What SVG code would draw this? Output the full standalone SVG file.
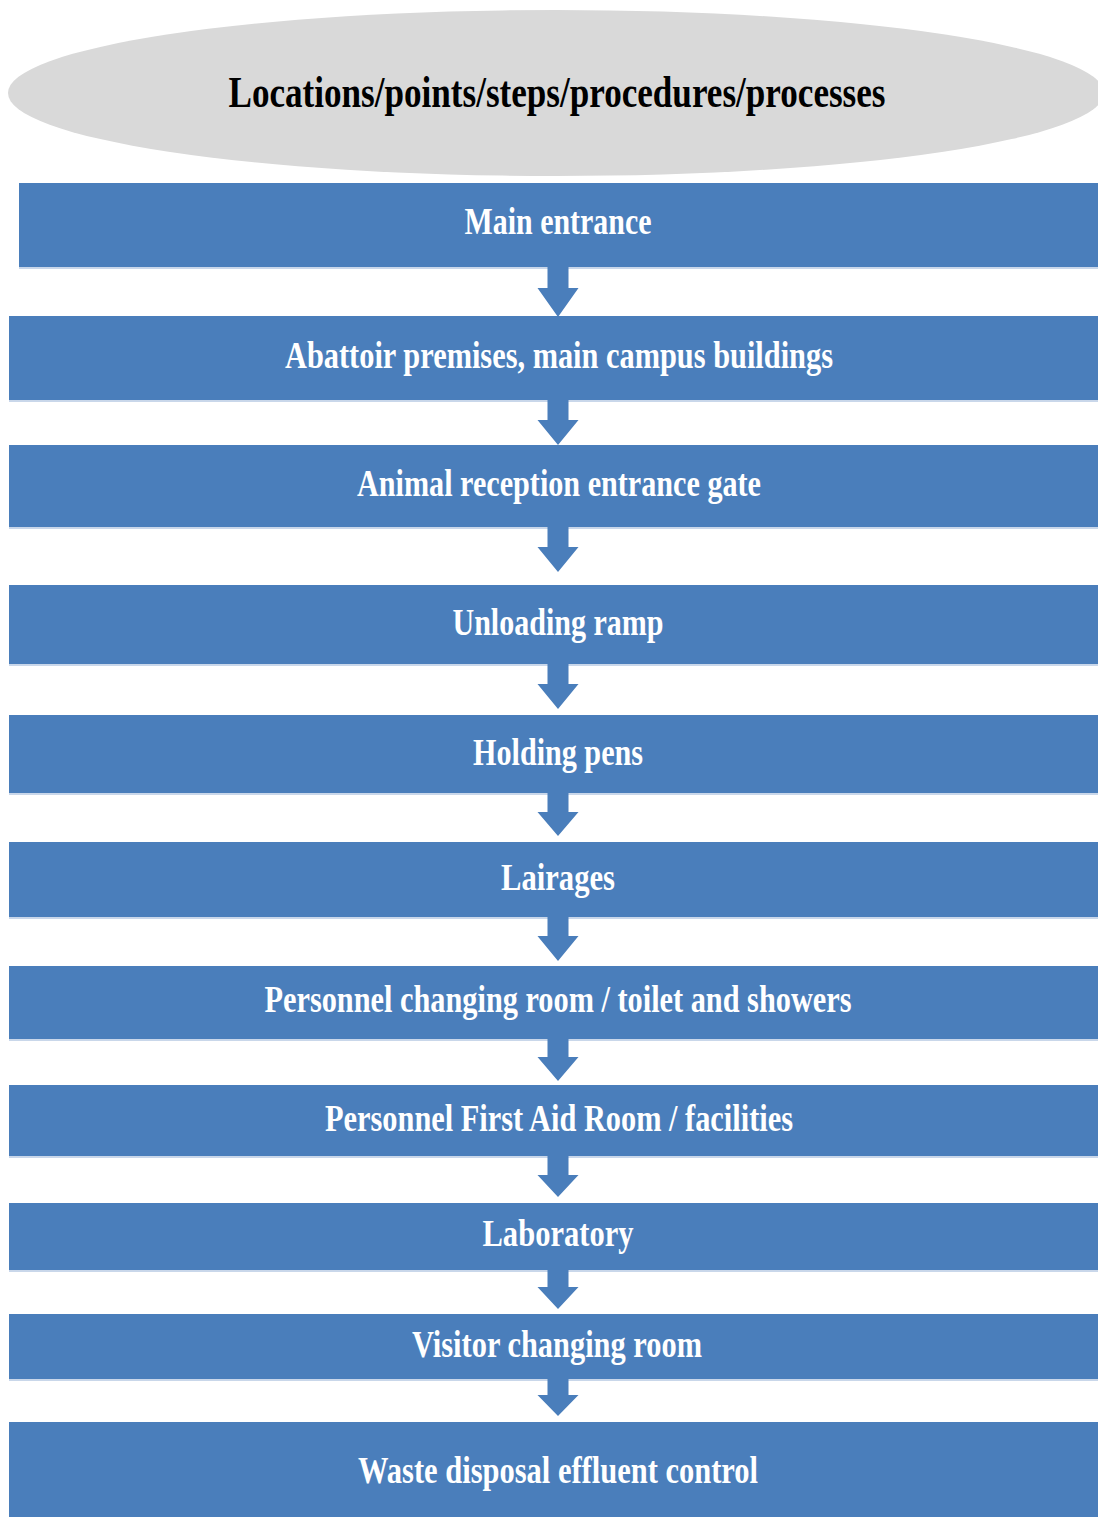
<svg xmlns="http://www.w3.org/2000/svg" width="1098" height="1517" viewBox="0 0 1098 1517">
<style>
.box{fill:#4a7ebb}
.edge{stroke:#c9d7ea;stroke-width:2}
.lbl{font-family:"Liberation Serif","Times New Roman",serif;font-weight:bold;font-size:38px;fill:#ffffff;text-anchor:middle}
.title{font-family:"Liberation Serif","Times New Roman",serif;font-weight:bold;font-size:44px;fill:#000000;text-anchor:middle}
.arr{fill:#4a7ebb}
</style>
<rect width="1098" height="1517" fill="#ffffff"/>
<g id="header">
<ellipse cx="556" cy="93" rx="548" ry="83" fill="#d9d9d9"/>
<text class="title" x="557" y="107" textLength="657" lengthAdjust="spacingAndGlyphs">Locations/points/steps/procedures/processes</text>
</g>
<g id="n1"><rect class="box" x="19" y="183" width="1079" height="84"/><line class="edge" x1="19" y1="268" x2="1098" y2="268"/><text class="lbl" x="558" y="234" textLength="187" lengthAdjust="spacingAndGlyphs">Main entrance</text></g>
<g id="n2"><rect class="box" x="9" y="316" width="1089" height="84"/><line class="edge" x1="9" y1="401" x2="1098" y2="401"/><text class="lbl" x="559" y="368" textLength="548" lengthAdjust="spacingAndGlyphs">Abattoir premises, main campus buildings</text></g>
<g id="n3"><rect class="box" x="9" y="445" width="1089" height="82"/><line class="edge" x1="9" y1="528" x2="1098" y2="528"/><text class="lbl" x="559" y="496" textLength="404" lengthAdjust="spacingAndGlyphs">Animal reception entrance gate</text></g>
<g id="n4"><rect class="box" x="9" y="585" width="1089" height="79"/><line class="edge" x1="9" y1="665" x2="1098" y2="665"/><text class="lbl" x="558" y="635" textLength="211" lengthAdjust="spacingAndGlyphs">Unloading ramp</text></g>
<g id="n5"><rect class="box" x="9" y="715" width="1089" height="78"/><line class="edge" x1="9" y1="794" x2="1098" y2="794"/><text class="lbl" x="558" y="765" textLength="170" lengthAdjust="spacingAndGlyphs">Holding pens</text></g>
<g id="n6"><rect class="box" x="9" y="842" width="1089" height="75"/><line class="edge" x1="9" y1="918" x2="1098" y2="918"/><text class="lbl" x="558" y="890" textLength="114" lengthAdjust="spacingAndGlyphs">Lairages</text></g>
<g id="n7"><rect class="box" x="9" y="966" width="1089" height="73"/><line class="edge" x1="9" y1="1040" x2="1098" y2="1040"/><text class="lbl" x="558" y="1012" textLength="587" lengthAdjust="spacingAndGlyphs">Personnel changing room / toilet and showers</text></g>
<g id="n8"><rect class="box" x="9" y="1085" width="1089" height="71"/><line class="edge" x1="9" y1="1157" x2="1098" y2="1157"/><text class="lbl" x="559" y="1131" textLength="468" lengthAdjust="spacingAndGlyphs">Personnel First Aid Room / facilities</text></g>
<g id="n9"><rect class="box" x="9" y="1203" width="1089" height="67"/><line class="edge" x1="9" y1="1271" x2="1098" y2="1271"/><text class="lbl" x="558" y="1246" textLength="151" lengthAdjust="spacingAndGlyphs">Laboratory</text></g>
<g id="n10"><rect class="box" x="9" y="1314" width="1089" height="65"/><line class="edge" x1="9" y1="1380" x2="1098" y2="1380"/><text class="lbl" x="557" y="1357" textLength="290" lengthAdjust="spacingAndGlyphs">Visitor changing room</text></g>
<g id="n11"><rect class="box" x="9" y="1422" width="1089" height="95"/><text class="lbl" x="558" y="1483" textLength="400" lengthAdjust="spacingAndGlyphs">Waste disposal effluent control</text></g>
<g id="connectors">
<path class="arr" d="M547.5 267 H568.5 V288 H578.5 L558 317 L537.5 288 H547.5 Z"/>
<path class="arr" d="M547.5 400 H568.5 V420 H578.5 L558 445 L537.5 420 H547.5 Z"/>
<path class="arr" d="M547.5 527 H568.5 V547 H578.5 L558 572 L537.5 547 H547.5 Z"/>
<path class="arr" d="M547.5 664 H568.5 V684 H578.5 L558 709 L537.5 684 H547.5 Z"/>
<path class="arr" d="M547.5 793 H568.5 V812 H578.5 L558 836 L537.5 812 H547.5 Z"/>
<path class="arr" d="M547.5 917 H568.5 V936 H578.5 L558 961 L537.5 936 H547.5 Z"/>
<path class="arr" d="M547.5 1039 H568.5 V1057 H578.5 L558 1081 L537.5 1057 H547.5 Z"/>
<path class="arr" d="M547.5 1156 H568.5 V1175 H578.5 L558 1197 L537.5 1175 H547.5 Z"/>
<path class="arr" d="M547.5 1270 H568.5 V1287 H578.5 L558 1309 L537.5 1287 H547.5 Z"/>
<path class="arr" d="M547.5 1379 H568.5 V1395 H578.5 L558 1416 L537.5 1395 H547.5 Z"/>
</g>
</svg>
